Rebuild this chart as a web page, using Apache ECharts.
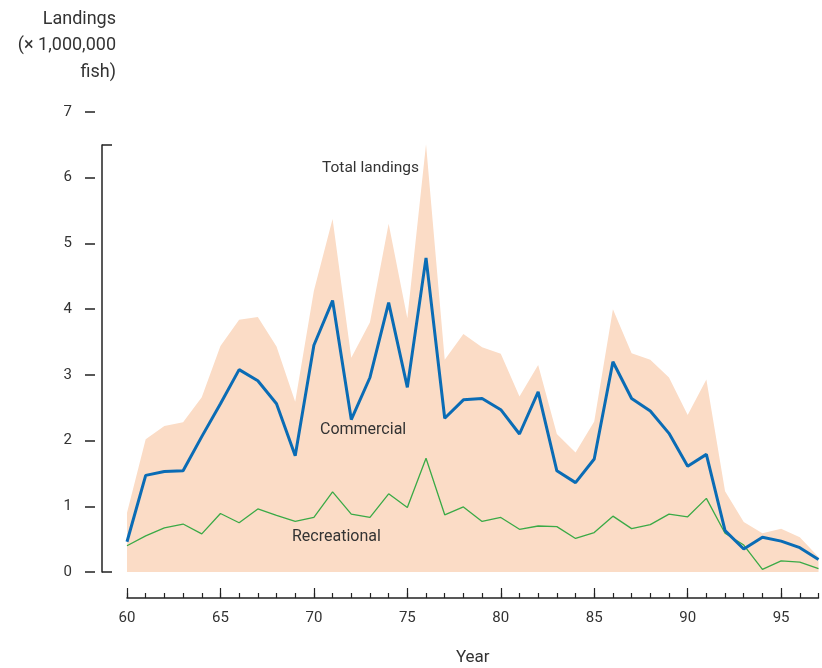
<!DOCTYPE html>
<html><head><meta charset="utf-8">
<script src="https://cdn.jsdelivr.net/npm/echarts@6/dist/echarts.min.js"></script>
<style>html,body{margin:0;padding:0;background:#fff}#c{width:822px;height:668px}</style>
</head><body><div id="c"></div>
<script>
const years = [60,61,62,63,64,65,66,67,68,69,70,71,72,73,74,75,76,77,78,79,80,81,82,83,84,85,86,87,88,89,90,91,92,93,94,95,96,97];
const totalLandings = [0.90,2.02,2.22,2.28,2.66,3.44,3.84,3.88,3.43,2.59,4.28,5.37,3.26,3.80,5.30,3.86,6.51,3.23,3.62,3.42,3.32,2.67,3.15,2.10,1.82,2.29,4.00,3.33,3.23,2.96,2.39,2.93,1.23,0.76,0.59,0.66,0.53,0.23];
const commercial = [0.46,1.47,1.53,1.54,2.06,2.56,3.08,2.91,2.56,1.77,3.45,4.13,2.32,2.96,4.10,2.81,4.78,2.34,2.62,2.64,2.47,2.10,2.74,1.54,1.36,1.72,3.20,2.64,2.45,2.11,1.61,1.79,0.63,0.35,0.53,0.47,0.37,0.19];
const recreational = [0.40,0.55,0.67,0.73,0.58,0.89,0.75,0.96,0.86,0.77,0.83,1.22,0.88,0.83,1.19,0.98,1.73,0.87,0.99,0.77,0.83,0.65,0.70,0.69,0.51,0.60,0.85,0.66,0.72,0.88,0.84,1.12,0.59,0.41,0.04,0.17,0.15,0.05];
const yTicks = [0,1,2,3,4,5,6,7];

const FONT = 'Roboto';
const TXT = '#333';
const AX = '#222';
const chart = echarts.init(document.getElementById('c'), null, {renderer:'canvas'});
chart.setOption({
  animation:false,
  grid:[
    {left:127, right:3.5, top:112, bottom:96, containLabel:false, outerBoundsMode:'none'},
    {left:102, width:20, top:145, bottom:96, containLabel:false, outerBoundsMode:'none'}
  ],
  xAxis:[
    {type:'category', gridIndex:0, data:years, boundaryGap:false, position:'bottom', offset:26,
     axisLine:{show:true, onZero:false, lineStyle:{color:AX, width:1.5}},
     axisTick:{show:true, inside:true, length:5, interval:0, lineStyle:{color:AX, width:1.2}},
     axisLabel:{show:false}, splitLine:{show:false},
     name:'Year', nameLocation:'middle', nameGap:51,
     nameTextStyle:{fontFamily:FONT, fontSize:17, color:TXT}},
    {type:'category', gridIndex:0, data:years, boundaryGap:false, position:'bottom', offset:26,
     axisLine:{show:false, onZero:false},
     axisTick:{show:true, inside:true, length:10, interval:(i)=>i%5===0, lineStyle:{color:AX, width:1.2}},
     axisLabel:{show:true, interval:(i)=>i%5===0, margin:13, fontFamily:FONT, fontSize:15, color:TXT},
     splitLine:{show:false}},
    {type:'value', gridIndex:1, show:false, min:0, max:1}
  ],
  yAxis:[
    {type:'value', gridIndex:0, min:yTicks[0], max:yTicks[yTicks.length-1], interval:1, offset:32,
     axisLine:{show:false, onZero:false},
     axisTick:{show:true, length:10, lineStyle:{color:AX, width:1.5}},
     axisLabel:{margin:23, fontFamily:FONT, fontSize:15, color:TXT},
     splitLine:{show:false}},
    {type:'value', gridIndex:1, min:0, max:1, interval:1,
     axisLine:{show:true, onZero:false, lineStyle:{color:AX, width:1.5}},
     axisTick:{show:true, inside:true, length:10, lineStyle:{color:AX, width:1.5}},
     axisLabel:{show:false}, splitLine:{show:false}}
  ],
  series:[
    {name:'Total landings', type:'line', xAxisIndex:0, yAxisIndex:0, data:totalLandings,
     symbol:'none', lineStyle:{width:0}, itemStyle:{color:'#fbdcc6'},
     areaStyle:{color:'#fbdcc6', opacity:1}, z:1},
    {name:'Commercial', type:'line', xAxisIndex:0, yAxisIndex:0, data:commercial,
     symbol:'none', lineStyle:{width:3, color:'#0a6cb5'}, z:3},
    {name:'Recreational', type:'line', xAxisIndex:0, yAxisIndex:0, data:recreational,
     symbol:'none', lineStyle:{width:1.3, color:'#3aaa46'}, z:2}
  ],
  graphic:[
    {type:'text', z:100, left:322, top:160, style:{text:'Total landings', font:'15.5px '+FONT, fill:TXT}},
    {type:'text', z:100, left:320, top:422, style:{text:'Commercial', font:'16px '+FONT, fill:TXT}},
    {type:'text', z:100, left:292, top:529, style:{text:'Recreational', font:'16px '+FONT, fill:TXT}},
    {type:'text', z:100, right:706, top:6, style:{text:'Landings\n(× 1,000,000\nfish)', font:'18px '+FONT, fill:TXT, lineHeight:26.5, textAlign:'right'}}
  ]
});
</script></body></html>
